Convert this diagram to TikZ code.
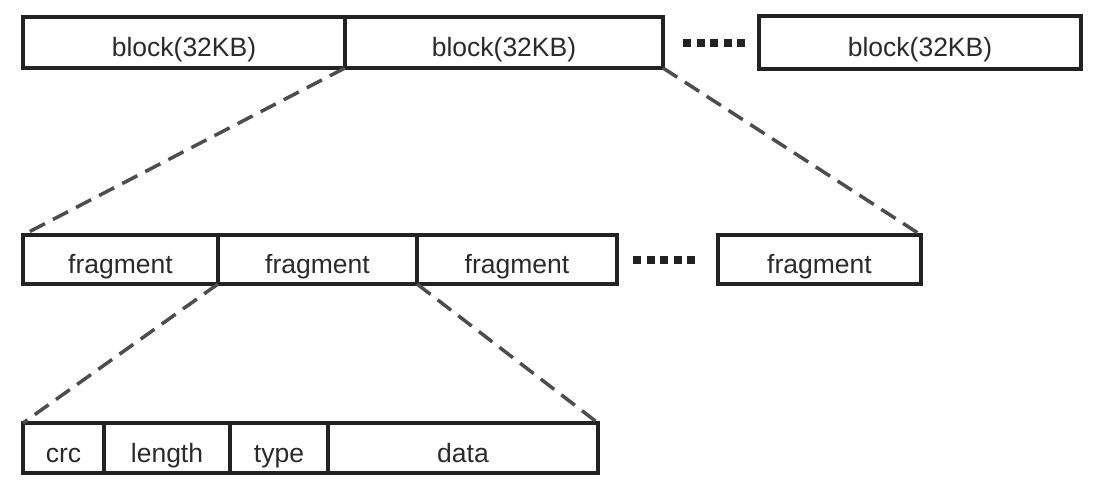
\documentclass[tikz,border=0pt]{standalone}
\usepackage{fontspec}
\setmainfont{Liberation Sans}
\begin{document}
\begin{tikzpicture}[x=1pt,y=-1pt,
  cell/.style={draw=boxc, line width=3.2pt, rectangle, outer sep=0pt, inner sep=0pt,
    anchor=north west, text=txtc, font=\fontsize{26.5}{30}\selectfont,
    text height=28pt, text depth=0pt},
  dashline/.style={draw=dashc, line width=3.5pt, dash pattern=on 17pt off 9pt},
  dotline/.style={draw=boxc, line width=8pt, dash pattern=on 8pt off 5.5pt}]
\definecolor{boxc}{HTML}{222222}
\definecolor{txtc}{HTML}{2A2A2A}
\definecolor{dashc}{HTML}{4D4D4D}
\useasboundingbox (0,0) rectangle (1094,502);
% top row
\node[cell, minimum width=322pt, minimum height=51pt] (b1) at (23,17) {block(32KB)};
\node[cell, minimum width=318pt, minimum height=51pt] (b2) at (345,17) {block(32KB)};
\node[cell, minimum width=322pt, minimum height=53pt] (b3) at (759,16) {block(32KB)};
\coordinate (d1s) at (683,43);
\coordinate (d1e) at (746,43);
\draw[dotline] (d1s) -- (d1e);
% second row
\node[cell, minimum width=195pt, minimum height=49pt] (f1) at (23,235) {fragment};
\node[cell, minimum width=199pt, minimum height=49pt] (f2) at (218,235) {fragment};
\node[cell, minimum width=200pt, minimum height=49pt] (f3) at (417,235) {fragment};
\node[cell, minimum width=203pt, minimum height=49pt] (f4) at (718,235) {fragment};
\coordinate (d2s) at (633,260);
\coordinate (d2e) at (696,260);
\draw[dotline] (d2s) -- (d2e);
% third row
\node[cell, minimum width=81pt, minimum height=50pt] (c1) at (23,423) {crc};
\node[cell, minimum width=126pt, minimum height=50pt] (c2) at (104,423) {length};
\node[cell, minimum width=98pt, minimum height=50pt] (c3) at (230,423) {type};
\node[cell, minimum width=270pt, minimum height=50pt] (c4) at (328,423) {data};
% dashed zoom lines
\draw[dashline] (b2.south west) -- (f1.north west);
\draw[dashline] (b2.south east) -- (f4.north east);
\draw[dashline] (f2.south west) -- (c1.north west);
\draw[dashline] (f2.south east) -- (c4.north east);
\end{tikzpicture}
\end{document}
